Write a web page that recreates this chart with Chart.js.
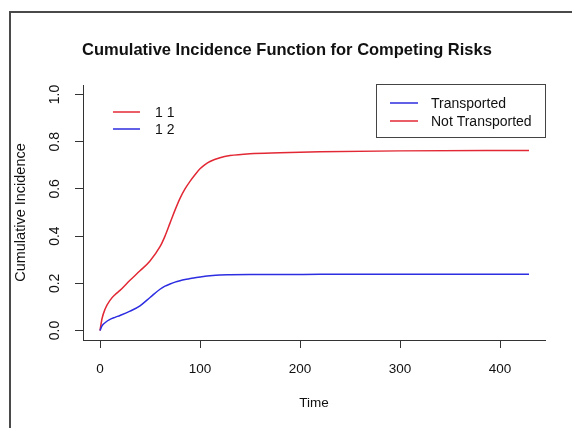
<!DOCTYPE html>
<html>
<head>
<meta charset="utf-8">
<script src="https://cdn.jsdelivr.net/npm/chart.js@4/dist/chart.umd.min.js"></script>
<style>
  html, body { margin: 0; padding: 0; background: #fff; }
  #wrap { position: relative; width: 572px; height: 428px; overflow: hidden; }
  #frame { position: absolute; left: 9px; top: 11px; width: 700px; height: 600px;
           border-left: 2px solid #4a4a4a; border-top: 2px solid #4a4a4a; }
  canvas { position: absolute; left: 0; top: 0; }
</style>
</head>
<body>
<div id="wrap">
  <div id="frame"></div>
  <canvas id="myChart" width="572" height="428"></canvas>
</div>
<script>
"use strict";

// time points
const times = [0, 2, 5, 10, 15, 20, 30, 40, 50, 60, 65, 70, 75, 80, 85, 90, 95, 100, 105, 110, 120, 130, 150, 180, 220, 300, 429];
// "Not Transported" / 1 1 (red)
const notTransported = [0, 0.05, 0.09, 0.128, 0.152, 0.17, 0.213, 0.253, 0.295, 0.355, 0.40, 0.455, 0.51, 0.56, 0.60, 0.632, 0.66, 0.685, 0.703, 0.716, 0.732, 0.741, 0.749, 0.753, 0.757, 0.761, 0.763];
// "Transported" / 1 2 (blue)
const transported = [0, 0.02, 0.033, 0.047, 0.056, 0.064, 0.082, 0.105, 0.14, 0.175, 0.188, 0.197, 0.205, 0.211, 0.216, 0.220, 0.224, 0.227, 0.23, 0.232, 0.235, 0.236, 0.237, 0.2375, 0.238, 0.239, 0.239];

const xTicks = [0, 100, 200, 300, 400];
const yTicks = [0, 0.2, 0.4, 0.6, 0.8, 1.0];
const groupLabels = ['1 1', '1 2'];
const seriesLabels = ['Transported', 'Not Transported'];
const chartTitle = 'Cumulative Incidence Function for Competing Risks';

const RED = 'rgb(226, 40, 52)';
const BLUE = 'rgb(45, 45, 225)';
const AXIS = '#333';
const FONT = "'Liberation Sans', Arial, sans-serif";

function toPoints(xs, ys) {
    return xs.map((x, i) => ({ x: x, y: ys[i] }));
}

// title + the two legends of the original (one without box, one with box)
const decorPlugin = {
    id: 'decor',
    afterDraw(chart) {
        const ctx = chart.ctx;
        const area = chart.chartArea;
        ctx.save();

        ctx.font = 'bold 16.5px ' + FONT;
        ctx.fillStyle = '#111';
        ctx.textAlign = 'center';
        ctx.textBaseline = 'middle';
        ctx.fillText(chartTitle, chart.width / 2 + 1, 50);

        ctx.font = '14px ' + FONT;
        ctx.textBaseline = 'middle';
        ctx.textAlign = 'left';
        ctx.lineWidth = 1.5;

        // left legend, no box
        const cols1 = [RED, BLUE];
        for (let i = 0; i < groupLabels.length; i++) {
            const y = area.top + 27 + i * 17;
            ctx.strokeStyle = cols1[i];
            ctx.beginPath();
            ctx.moveTo(area.left + 30, y);
            ctx.lineTo(area.left + 57, y);
            ctx.stroke();
            ctx.fillStyle = '#111';
            ctx.fillText(groupLabels[i], area.left + 72, y + 1);
        }

        // right legend with box
        const bw = 169, bh = 53;
        const bx = area.right - bw, by = area.top - 1;
        ctx.lineWidth = 1;
        ctx.strokeStyle = '#444';
        ctx.strokeRect(bx + 0.5, by + 0.5, bw, bh);
        const cols2 = [BLUE, RED];
        ctx.lineWidth = 1.5;
        for (let i = 0; i < seriesLabels.length; i++) {
            const y = by + 19 + i * 18;
            ctx.strokeStyle = cols2[i];
            ctx.beginPath();
            ctx.moveTo(bx + 14, y);
            ctx.lineTo(bx + 42, y);
            ctx.stroke();
            ctx.fillStyle = '#111';
            ctx.fillText(seriesLabels[i], bx + 55, y + 1);
        }
        ctx.restore();
    }
};

const ctx = document.getElementById('myChart').getContext('2d');
const myChart = new Chart(ctx, {
    type: 'line',
    data: {
        datasets: [{
            label: seriesLabels[0],
            data: toPoints(times, transported),
            borderColor: BLUE,
            borderWidth: 1.5,
            pointRadius: 0,
            cubicInterpolationMode: 'monotone',
            fill: false
        }, {
            label: seriesLabels[1],
            data: toPoints(times, notTransported),
            borderColor: RED,
            borderWidth: 1.5,
            pointRadius: 0,
            cubicInterpolationMode: 'monotone',
            fill: false
        }]
    },
    options: {
        responsive: false,
        animation: false,
        events: [],
        layout: { padding: { left: 0, top: 85, right: 27, bottom: 0 } },
        plugins: {
            legend: { display: false },
            tooltip: { enabled: false },
            title: { display: false }
        },
        scales: {
            x: {
                type: 'linear',
                min: -17,
                max: 445,
                afterBuildTicks: (scale) => { scale.ticks = xTicks.map(v => ({ value: v })); },
                afterFit: (scale) => { scale.height = 88; },
                ticks: {
                    color: '#111',
                    font: { family: FONT, size: 13.5 },
                    padding: 13,
                    maxRotation: 0,
                    callback: (v) => String(v)
                },
                grid: { drawOnChartArea: false, drawTicks: true, tickLength: 8, color: AXIS, tickColor: AXIS },
                border: { display: true, color: AXIS, width: 1 },
                title: {
                    display: true,
                    text: 'Time',
                    color: '#111',
                    font: { family: FONT, size: 13.5 },
                    padding: { top: 0, bottom: 17 }
                }
            },
            y: {
                type: 'linear',
                min: -0.04,
                max: 1.04,
                afterBuildTicks: (scale) => { scale.ticks = yTicks.map(v => ({ value: v })); },
                afterFit: (scale) => { scale.width = 83; },
                ticks: {
                    color: '#111',
                    font: { family: FONT, size: 14 },
                    padding: 10,
                    minRotation: 90,
                    maxRotation: 90,
                    crossAlign: 'center',
                    callback: (v) => Number(v).toFixed(1)
                },
                grid: { drawOnChartArea: false, drawTicks: true, tickLength: 8, color: AXIS, tickColor: AXIS },
                border: { display: true, color: AXIS, width: 1 },
                title: {
                    display: true,
                    text: 'Cumulative Incidence',
                    color: '#111',
                    font: { family: FONT, size: 14.5 },
                    padding: { top: 12, bottom: 0 }
                }
            }
        }
    },
    plugins: [decorPlugin]
});
</script>
</body>
</html>
